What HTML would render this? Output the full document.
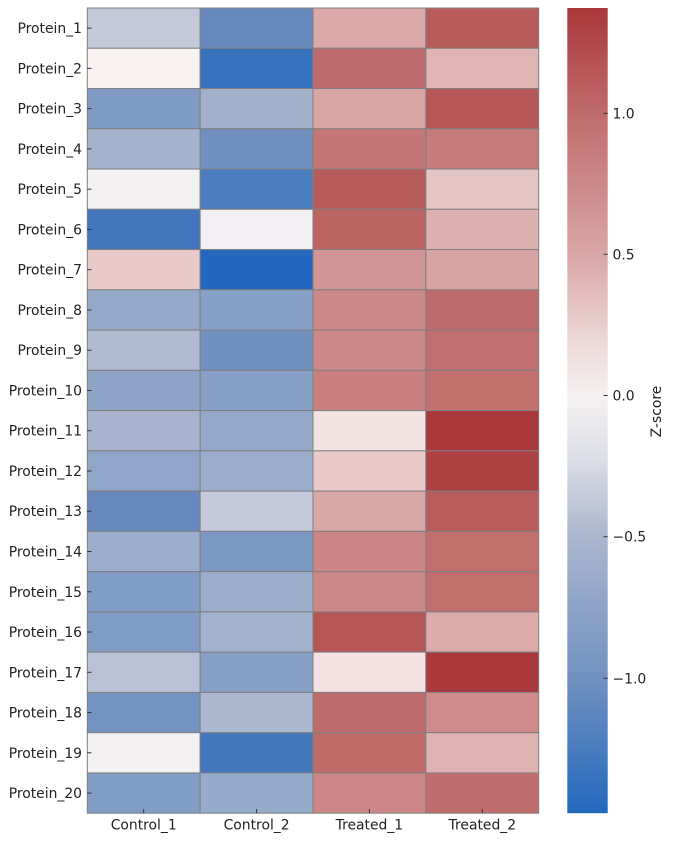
<!DOCTYPE html>
<html><head><meta charset="utf-8"><style>
html,body{margin:0;padding:0;background:#fff;}
svg{display:block;font-family:"DejaVu Sans","Liberation Sans",sans-serif;}
</style></head><body>
<svg width="673" height="841" viewBox="0 0 673 841" xmlns="http://www.w3.org/2000/svg">
<defs>
<linearGradient id="cb" x1="0" y1="0" x2="0" y2="1">
<stop offset="0" stop-color="#a9373b"/>
<stop offset="0.13" stop-color="#c06b6b"/>
<stop offset="0.306" stop-color="#d9a6a5"/>
<stop offset="0.42" stop-color="#eedada"/>
<stop offset="0.482" stop-color="#f5f1f1"/>
<stop offset="0.56" stop-color="#dcdee7"/>
<stop offset="0.658" stop-color="#aab6ce"/>
<stop offset="0.834" stop-color="#7191c1"/>
<stop offset="1" stop-color="#2369bd"/>
</linearGradient>
</defs>
<g id="cells" stroke="#808080" stroke-width="1">
<!-- row 1 -->
<rect x="87.3" y="8" width="112.85" height="40.26" fill="#c3c9d9"/>
<rect x="200.15" y="8" width="112.85" height="40.26" fill="#6889bd"/>
<rect x="313" y="8" width="112.85" height="40.26" fill="#dba9a8"/>
<rect x="425.85" y="8" width="112.85" height="40.26" fill="#b75b5b"/>
<!-- row 2 -->
<rect x="87.3" y="48.26" width="112.85" height="40.26" fill="#f8f2f1"/>
<rect x="200.15" y="48.26" width="112.85" height="40.26" fill="#3a73bd"/>
<rect x="313" y="48.26" width="112.85" height="40.26" fill="#c06b6b"/>
<rect x="425.85" y="48.26" width="112.85" height="40.26" fill="#e0b4b3"/>
<!-- row 3 -->
<rect x="87.3" y="88.52" width="112.85" height="40.26" fill="#7f9bc4"/>
<rect x="200.15" y="88.52" width="112.85" height="40.26" fill="#a3b0ca"/>
<rect x="313" y="88.52" width="112.85" height="40.26" fill="#d9a5a3"/>
<rect x="425.85" y="88.52" width="112.85" height="40.26" fill="#b55757"/>
<!-- row 4 -->
<rect x="87.3" y="128.78" width="112.85" height="40.26" fill="#a5b2cc"/>
<rect x="200.15" y="128.78" width="112.85" height="40.26" fill="#7190c0"/>
<rect x="313" y="128.78" width="112.85" height="40.26" fill="#c47776"/>
<rect x="425.85" y="128.78" width="112.85" height="40.26" fill="#c57b7a"/>
<!-- row 5 -->
<rect x="87.3" y="169.04" width="112.85" height="40.26" fill="#f3f1f2"/>
<rect x="200.15" y="169.04" width="112.85" height="40.26" fill="#4b7cbd"/>
<rect x="313" y="169.04" width="112.85" height="40.26" fill="#b75a5a"/>
<rect x="425.85" y="169.04" width="112.85" height="40.26" fill="#e4c5c5"/>
<!-- row 6 -->
<rect x="87.3" y="209.3" width="112.85" height="40.26" fill="#4377bd"/>
<rect x="200.15" y="209.3" width="112.85" height="40.26" fill="#f1eff2"/>
<rect x="313" y="209.3" width="112.85" height="40.26" fill="#bc6463"/>
<rect x="425.85" y="209.3" width="112.85" height="40.26" fill="#deb1b1"/>
<!-- row 7 -->
<rect x="87.3" y="249.56" width="112.85" height="40.26" fill="#e8cac9"/>
<rect x="200.15" y="249.56" width="112.85" height="40.26" fill="#2368be"/>
<rect x="313" y="249.56" width="112.85" height="40.26" fill="#d29595"/>
<rect x="425.85" y="249.56" width="112.85" height="40.26" fill="#d7a4a3"/>
<!-- row 8 -->
<rect x="87.3" y="289.82" width="112.85" height="40.26" fill="#94a8c8"/>
<rect x="200.15" y="289.82" width="112.85" height="40.26" fill="#86a0c6"/>
<rect x="313" y="289.82" width="112.85" height="40.26" fill="#cd8987"/>
<rect x="425.85" y="289.82" width="112.85" height="40.26" fill="#c06b6b"/>
<!-- row 9 -->
<rect x="87.3" y="330.08" width="112.85" height="40.26" fill="#b0bbd2"/>
<rect x="200.15" y="330.08" width="112.85" height="40.26" fill="#7090c0"/>
<rect x="313" y="330.08" width="112.85" height="40.26" fill="#cd8988"/>
<rect x="425.85" y="330.08" width="112.85" height="40.26" fill="#c26f6f"/>
<!-- row 10 -->
<rect x="87.3" y="370.34" width="112.85" height="40.26" fill="#8ea5c8"/>
<rect x="200.15" y="370.34" width="112.85" height="40.26" fill="#86a0c6"/>
<rect x="313" y="370.34" width="112.85" height="40.26" fill="#c97f7e"/>
<rect x="425.85" y="370.34" width="112.85" height="40.26" fill="#c4706f"/>
<!-- row 11 -->
<rect x="87.3" y="410.6" width="112.85" height="40.26" fill="#a8b4cd"/>
<rect x="200.15" y="410.6" width="112.85" height="40.26" fill="#94a9c8"/>
<rect x="313" y="410.6" width="112.85" height="40.26" fill="#f4e3e3"/>
<rect x="425.85" y="410.6" width="112.85" height="40.26" fill="#a9373b"/>
<!-- row 12 -->
<rect x="87.3" y="450.86" width="112.85" height="40.26" fill="#90a6c8"/>
<rect x="200.15" y="450.86" width="112.85" height="40.26" fill="#9aaecb"/>
<rect x="313" y="450.86" width="112.85" height="40.26" fill="#e8cac8"/>
<rect x="425.85" y="450.86" width="112.85" height="40.26" fill="#ad4043"/>
<!-- row 13 -->
<rect x="87.3" y="491.12" width="112.85" height="40.26" fill="#6889bd"/>
<rect x="200.15" y="491.12" width="112.85" height="40.26" fill="#c4cadc"/>
<rect x="313" y="491.12" width="112.85" height="40.26" fill="#d8a8a6"/>
<rect x="425.85" y="491.12" width="112.85" height="40.26" fill="#b85c5c"/>
<!-- row 14 -->
<rect x="87.3" y="531.38" width="112.85" height="40.26" fill="#9caecb"/>
<rect x="200.15" y="531.38" width="112.85" height="40.26" fill="#7b98c3"/>
<rect x="313" y="531.38" width="112.85" height="40.26" fill="#cb8685"/>
<rect x="425.85" y="531.38" width="112.85" height="40.26" fill="#c26e6d"/>
<!-- row 15 -->
<rect x="87.3" y="571.64" width="112.85" height="40.26" fill="#819cc5"/>
<rect x="200.15" y="571.64" width="112.85" height="40.26" fill="#9aaecb"/>
<rect x="313" y="571.64" width="112.85" height="40.26" fill="#cc8887"/>
<rect x="425.85" y="571.64" width="112.85" height="40.26" fill="#c26e6d"/>
<!-- row 16 -->
<rect x="87.3" y="611.9" width="112.85" height="40.26" fill="#809bc4"/>
<rect x="200.15" y="611.9" width="112.85" height="40.26" fill="#a3b2cc"/>
<rect x="313" y="611.9" width="112.85" height="40.26" fill="#b55555"/>
<rect x="425.85" y="611.9" width="112.85" height="40.26" fill="#dbacaa"/>
<!-- row 17 -->
<rect x="87.3" y="652.16" width="112.85" height="40.26" fill="#b8c1d5"/>
<rect x="200.15" y="652.16" width="112.85" height="40.26" fill="#86a0c6"/>
<rect x="313" y="652.16" width="112.85" height="40.26" fill="#f4e2e2"/>
<rect x="425.85" y="652.16" width="112.85" height="40.26" fill="#aa383d"/>
<!-- row 18 -->
<rect x="87.3" y="692.42" width="112.85" height="40.26" fill="#7393c1"/>
<rect x="200.15" y="692.42" width="112.85" height="40.26" fill="#abb8d0"/>
<rect x="313" y="692.42" width="112.85" height="40.26" fill="#c06b6b"/>
<rect x="425.85" y="692.42" width="112.85" height="40.26" fill="#cf8c8b"/>
<!-- row 19 -->
<rect x="87.3" y="732.68" width="112.85" height="40.26" fill="#f3f1f2"/>
<rect x="200.15" y="732.68" width="112.85" height="40.26" fill="#4577bd"/>
<rect x="313" y="732.68" width="112.85" height="40.26" fill="#c06b6a"/>
<rect x="425.85" y="732.68" width="112.85" height="40.26" fill="#dfb2b2"/>
<!-- row 20 -->
<rect x="87.3" y="772.94" width="112.85" height="40.26" fill="#819dc6"/>
<rect x="200.15" y="772.94" width="112.85" height="40.26" fill="#96aac9"/>
<rect x="313" y="772.94" width="112.85" height="40.26" fill="#cd8786"/>
<rect x="425.85" y="772.94" width="112.85" height="40.26" fill="#c26d6d"/>
</g>
<!-- y ticks (inward) -->
<g stroke="#333" stroke-width="1">
<line x1="87.3" x2="91.5" y1="28.13" y2="28.13"/>
<line x1="87.3" x2="91.5" y1="68.39" y2="68.39"/>
<line x1="87.3" x2="91.5" y1="108.65" y2="108.65"/>
<line x1="87.3" x2="91.5" y1="148.91" y2="148.91"/>
<line x1="87.3" x2="91.5" y1="189.17" y2="189.17"/>
<line x1="87.3" x2="91.5" y1="229.43" y2="229.43"/>
<line x1="87.3" x2="91.5" y1="269.69" y2="269.69"/>
<line x1="87.3" x2="91.5" y1="309.95" y2="309.95"/>
<line x1="87.3" x2="91.5" y1="350.21" y2="350.21"/>
<line x1="87.3" x2="91.5" y1="390.47" y2="390.47"/>
<line x1="87.3" x2="91.5" y1="430.73" y2="430.73"/>
<line x1="87.3" x2="91.5" y1="470.99" y2="470.99"/>
<line x1="87.3" x2="91.5" y1="511.25" y2="511.25"/>
<line x1="87.3" x2="91.5" y1="551.51" y2="551.51"/>
<line x1="87.3" x2="91.5" y1="591.77" y2="591.77"/>
<line x1="87.3" x2="91.5" y1="632.03" y2="632.03"/>
<line x1="87.3" x2="91.5" y1="672.29" y2="672.29"/>
<line x1="87.3" x2="91.5" y1="712.55" y2="712.55"/>
<line x1="87.3" x2="91.5" y1="752.81" y2="752.81"/>
<line x1="87.3" x2="91.5" y1="793.07" y2="793.07"/>
<line x1="143.7" x2="143.7" y1="809" y2="813.2"/>
<line x1="256.6" x2="256.6" y1="809" y2="813.2"/>
<line x1="369.4" x2="369.4" y1="809" y2="813.2"/>
<line x1="482.3" x2="482.3" y1="809" y2="813.2"/>
</g>
<g font-size="13.9" fill="#222" text-anchor="end">
<text x="82" y="33.1">Protein_1</text>
<text x="82" y="73.4">Protein_2</text>
<text x="82" y="113.6">Protein_3</text>
<text x="82" y="153.9">Protein_4</text>
<text x="82" y="194.2">Protein_5</text>
<text x="82" y="234.4">Protein_6</text>
<text x="82" y="274.7">Protein_7</text>
<text x="82" y="314.9">Protein_8</text>
<text x="82" y="355.2">Protein_9</text>
<text x="82" y="395.5">Protein_10</text>
<text x="82" y="435.7">Protein_11</text>
<text x="82" y="476">Protein_12</text>
<text x="82" y="516.2">Protein_13</text>
<text x="82" y="556.5">Protein_14</text>
<text x="82" y="596.8">Protein_15</text>
<text x="82" y="637">Protein_16</text>
<text x="82" y="677.3">Protein_17</text>
<text x="82" y="717.5">Protein_18</text>
<text x="82" y="757.8">Protein_19</text>
<text x="82" y="798.1">Protein_20</text>
</g>
<g font-size="13.9" fill="#222" text-anchor="middle">
<text x="143.7" y="829.5">Control_1</text>
<text x="256.6" y="829.5">Control_2</text>
<text x="369.4" y="829.5">Treated_1</text>
<text x="482.3" y="829.5">Treated_2</text>
</g>
<!-- colorbar -->
<rect x="567.3" y="8" width="40.4" height="805.2" fill="url(#cb)"/>
<g stroke="#333" stroke-width="1">
<line x1="603.5" x2="607.7" y1="113.3" y2="113.3"/>
<line x1="603.5" x2="607.7" y1="254.3" y2="254.3"/>
<line x1="603.5" x2="607.7" y1="395.5" y2="395.5"/>
<line x1="603.5" x2="607.7" y1="536.7" y2="536.7"/>
<line x1="603.5" x2="607.7" y1="678.3" y2="678.3"/>
</g>
<g font-size="13.9" fill="#222">
<text x="612.5" y="118.3">1.0</text>
<text x="612.5" y="259.3">0.5</text>
<text x="612.5" y="400.5">0.0</text>
<text x="612.5" y="541.7">−0.5</text>
<text x="612.5" y="683.3">−1.0</text>
</g>
<text x="661" y="411.5" font-size="13.9" fill="#222" text-anchor="middle" transform="rotate(-90 661 411.5)">Z-score</text>
</svg>
</body></html>
